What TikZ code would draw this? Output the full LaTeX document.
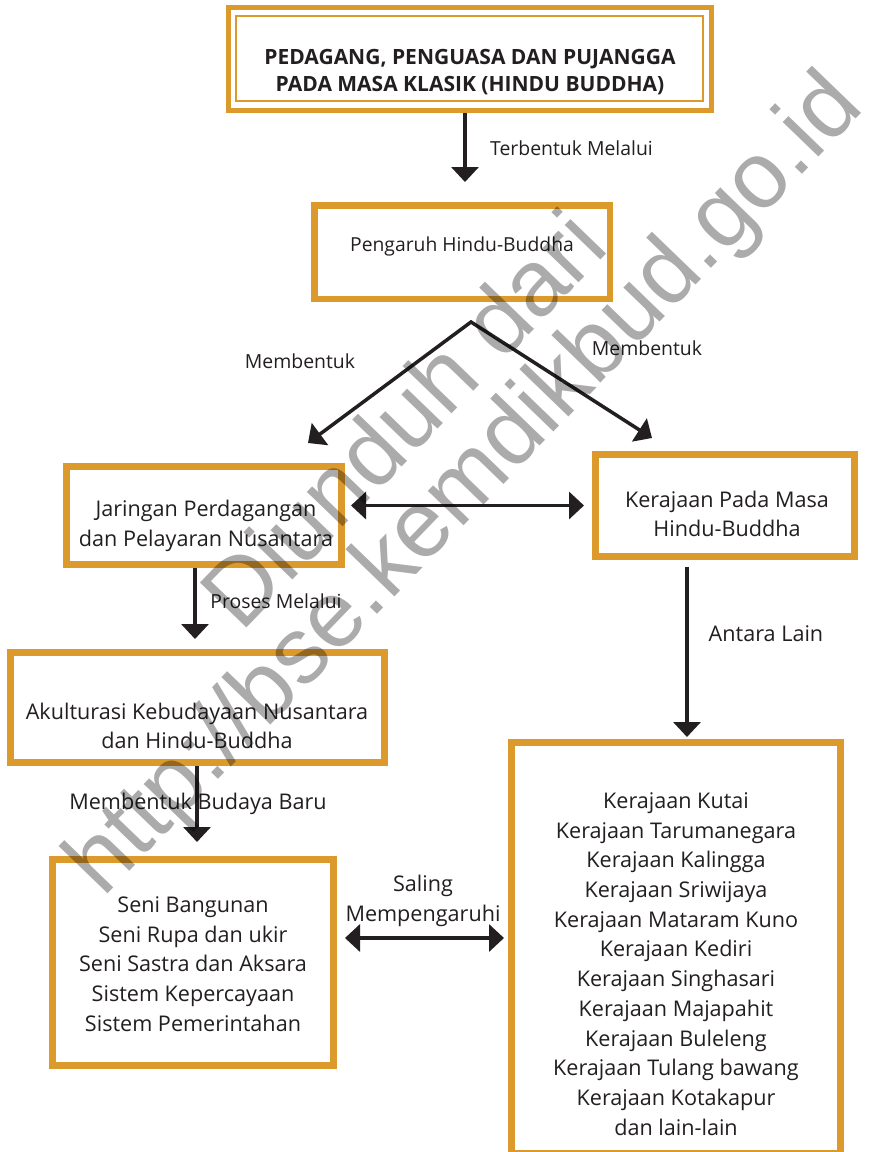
\documentclass[tikz,border=0pt]{standalone}
\usepackage{fontspec}
\setmainfont{Open Sans}
\newfontfamily\wmfont{Liberation Sans}
\usetikzlibrary{arrows.meta}
\definecolor{org}{HTML}{DD9A2C}
\definecolor{ink}{HTML}{231F20}
\begin{document}
\begin{tikzpicture}[x=1pt,y=-1pt,
  box/.style={draw=org, line width=7pt, inner sep=0pt, outer sep=0pt},
  txt/.style={text=ink, align=center, inner sep=0pt, font=\fontsize{21.6}{29.7}\selectfont},
  lbl/.style={text=ink, inner sep=0pt, font=\fontsize{19.4}{27}\selectfont},
  arr/.style={draw=ink, line width=3.5pt, -{Triangle[length=15pt,width=27pt]}},
  darr/.style={draw=ink, line width=3.5pt, {Triangle[length=15pt,width=27pt]}-{Triangle[length=15pt,width=27pt]}},
  wm/.style={rotate=46, inner sep=0pt, text=black, text opacity=0.33, font=\wmfont\fontsize{94}{94}\selectfont}
]
\useasboundingbox[fill=white] (0,0) rectangle (886,1152);

% boxes
\node[box, line width=5pt, minimum width=483pt, minimum height=103pt] (b1) at (470,59) {};
\draw[org, line width=2pt] ([xshift=7pt,yshift=-8pt]b1.north west) rectangle ([xshift=-8.5pt,yshift=9.5pt]b1.south east);
\node[box, line width=6.5pt, minimum width=295.5pt, minimum height=93.5pt] (b2) at (462,252) {};
\node[box, minimum width=275pt, minimum height=98pt] (b3) at (204,515.5) {};
\node[box, minimum width=259pt, minimum height=102pt] (b4) at (725,505.5) {};
\node[box, minimum width=374pt, minimum height=110pt] (b5) at (197.5,707.5) {};
\node[box, minimum width=281pt, minimum height=206pt] (b6) at (193,962.5) {};
\node[box, minimum width=329pt, minimum height=411pt] (b7) at (676,948) {};

% texts in boxes
\node[txt, font=\bfseries\fontsize{21}{27}\selectfont] (t1) at (470,72) {PEDAGANG, PENGUASA DAN PUJANGGA\\PADA MASA KLASIK (HINDU BUDDHA)};
\node[txt, font=\fontsize{19.3}{27}\selectfont] (t2) at (462,246) {Pengaruh Hindu-Buddha};
\node[txt] (t3) at (206,526) {Jaringan Perdagangan\\dan Pelayaran Nusantara};
\node[txt] (t4) at (727,514) {Kerajaan Pada Masa\\Hindu-Buddha};
\node[txt] (t5) at (197,726) {Akulturasi Kebudayaan Nusantara\\dan Hindu-Buddha};
\node[txt] (t6) at (193,964) {Seni Bangunan\\Seni Rupa dan ukir\\Seni Sastra dan Aksara\\Sistem Kepercayaan\\Sistem Pemerintahan};
\node[txt] (t7) at (676,964) {Kerajaan Kutai\\Kerajaan Tarumanegara\\Kerajaan Kalingga\\Kerajaan Sriwijaya\\Kerajaan Mataram Kuno\\Kerajaan Kediri\\Kerajaan Singhasari\\Kerajaan Majapahit\\Kerajaan Buleleng\\Kerajaan Tulang bawang\\Kerajaan Kotakapur\\dan lain-lain};

% labels
\node[lbl, anchor=west] (l1) at (490,148) {Terbentuk Melalui};
\node[lbl] (l2) at (300,361) {Membentuk};
\node[lbl] (l3) at (647,348) {Membentuk};
\node[lbl] (l4) at (276,601) {Proses Melalui};
\node[txt] (l5) at (766,634) {Antara Lain};
\node[txt] (l6) at (198,804) {Membentuk Budaya Baru};
\node[txt] (l7) at (423,901) {Saling\\Mempengaruhi};

% connectors
\draw[arr, shorten <=2.5pt, shorten >=23.25pt] ([xshift=-5pt]b1.south) -- ([xshift=-5pt]b1.south |- b2.north);
\coordinate (apex) at ([xshift=9pt,yshift=-23.25pt]b2.south);
\draw[darr, line join=miter] ([xshift=104pt,yshift=23.5pt]b3.north) -- (apex) -- ([xshift=-73pt,yshift=16.5pt]b4.north);
\draw[darr] ([xshift=9.5pt]b3.east |- b4.west) -- ([xshift=-11.5pt]b4.west);
\draw[arr, shorten <=3.5pt, shorten >=13.5pt] ([xshift=-9pt]b3.south) -- ([xshift=-9pt]b3.south |- b5.north);
\draw[arr, shorten <=3.5pt, shorten >=17.5pt] ([xshift=-0.5pt]b5.south) -- ([xshift=-0.5pt]b5.south |- b6.north);
\draw[arr, shorten <=10pt, shorten >=5.5pt] ([xshift=-38pt]b4.south) -- ([xshift=-38pt]b4.south |- b7.north);
\draw[darr] ([xshift=11.5pt,yshift=24.5pt]b6.east) -- ([xshift=-7.5pt,yshift=10pt]b7.west);

% watermark
\node[wm] (w1) at (402,418) {Diunduh dari};
\node[wm] (w2) at (467,487) {http://bse.kemdikbud.go.id};
\end{tikzpicture}
\end{document}
